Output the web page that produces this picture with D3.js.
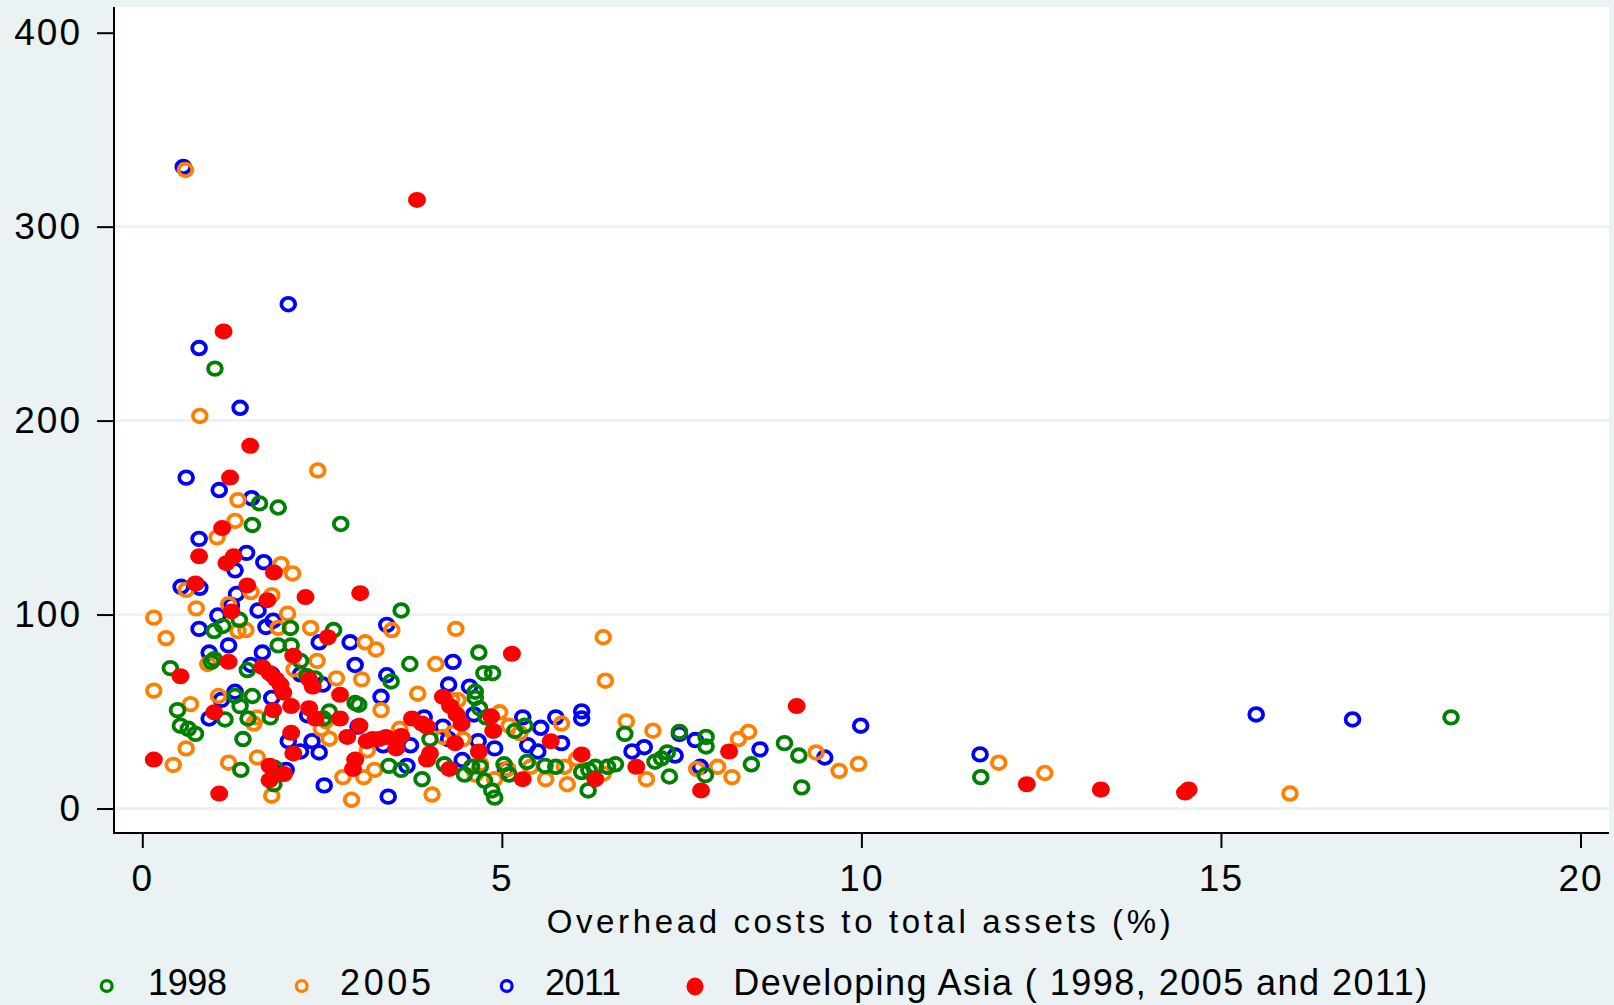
<!DOCTYPE html>
<html>
<head>
<meta charset="utf-8">
<script src="https://cdn.jsdelivr.net/npm/d3@7"></script>
<style>
  body { margin: 0; background: #eaf2f3; }
  text { font-family: "Liberation Sans", Arial, sans-serif; fill: #000; }
</style>
</head>
<body>
<svg id="chart"></svg>
<script>
// overhead costs to total assets (%) vs y value, one list per year
var data2011 = [
  [0.57,330.8],[2.03,260],[0.79,237.4],[1.36,206.6],[0.61,170.6],[1.07,164.2],[1.52,160],
  [0.79,139],[1.45,131.8],[1.69,127],[1.29,122.8],[0.54,114.3],[0.8,113.8],[1.31,110.6],
  [1.61,102.1],[1.24,104.8],[1.05,99.5],[1.82,96.8],[1.72,93.6],[0.79,92.6],[3.4,94.7],
  [1.2,84.1],[1.67,80.4],[0.93,80.4],[2.46,85.7],[2.89,85.7],[2.96,74],[4.32,75.6],
  [1.51,74],[1.8,69.2],[2.2,69.2],[3.4,68.7],[2.51,63.9],[4.26,63.9],[4.55,62.8],
  [6.11,50.1],[6.11,46.4],[5.75,47],[5.29,47],[4.61,48.5],[3.92,47],[3.0,42.2],[3.32,57.6],
  [1.29,60.2],[1.1,56],[0.93,46.4],[1.8,57],[2.2,29.4],[2.03,34.7],[2.36,34.7],[2.46,28.9],
  [3.35,32.6],[3.73,32.6],[3.68,22],[4.18,42.2],[4.26,35.8],[4.67,34.7],[4.9,31],[5.36,32.6],
  [5.54,41.6],[5.5,29.4],[5.83,33.7],[6.98,31.6],[6.81,29.4],[7.41,27.3],[7.47,38.5],
  [7.69,35.3],[7.76,21.5],[8.59,30.5],[9.49,26.3],[9.99,42.7],[11.65,27.9],[15.49,48.5],
  [16.83,45.9],[2.53,11.9],[3.42,6.1],[1.79,21.5],[2.0,19.9],[2.3,48],[4.45,25],[5.05,20]
];

var data2005 = [
  [0.6,329.2],[0.8,202.4],[2.44,174.3],[1.33,159],[1.29,148.3],[1.04,139.8],[1.93,126],
  [2.09,121.2],[1.51,111.6],[0.61,112.7],[1.8,110],[1.2,105.3],[0.75,103.2],[2.02,100.5],
  [0.16,98.4],[1.33,91.5],[1.44,92],[1.89,93.1],[2.34,93.1],[3.47,92],[4.36,92.6],[6.41,88.3],
  [0.33,87.8],[3.1,85.7],[3.25,82],[4.08,74.5],[0.91,74.5],[2.43,76.1],[2.11,71.8],[2.7,67.1],
  [3.05,66.6],[6.44,65.9],[0.16,60.8],[1.06,58],[0.67,53.8],[3.83,59.2],[3.32,50.7],[4.3,56],
  [4.39,55.9],[4.97,49.6],[1.55,43.8],[1.6,47],[2.49,41.1],[2.55,45],[3.58,41.1],[4.18,36.9],
  [4.32,39],[4.46,35.8],[5.1,42.7],[5.25,38.9],[5.83,43.8],[6.73,44.9],[7.1,40.1],[8.29,35.8],
  [8.43,39.5],[9.37,28.9],[0.61,31],[0.43,22.5],[1.2,23.6],[1.6,26.3],[1.8,6.6],[2.6,36],
  [2.79,16.2],[2.91,4.5],[3.08,16.2],[3.13,30],[3.23,19.9],[4.03,7.2],[4.63,17.5],[4.7,23],
  [4.9,15.1],[5.08,20.5],[5.4,21.5],[5.61,15.1],[5.87,21.5],[5.91,12.5],[6.04,25.5],[6.41,18],
  [7.01,15.1],[7.71,20.4],[8.0,21.5],[8.2,16.2],[9.69,19.4],[9.96,23],[11.91,23.6],[12.55,18.3],
  [15.96,7.7]
];

var data1998 = [
  [1.01,226.8],[1.53,146.2],[2.76,146.7],[1.63,157.3],[1.89,155.2],[1.35,97.3],[1.12,94.1],
  [1.0,91.5],[2.06,93.1],[2.66,92],[3.6,102.1],[1.89,84.1],[2.07,84.1],[3.72,74.5],[4.68,80.4],
  [4.75,69.8],[4.87,69.8],[0.96,75.6],[1.0,77],[1.46,71.4],[2.2,76.1],[2.29,68.2],[2.4,67.1],
  [3.46,65.5],[4.63,60.2],[4.63,57],[4.69,51.7],[4.78,47],[0.39,72.4],[0.49,50.7],[0.53,42.7],
  [0.64,41.1],[0.74,38.5],[1.29,58],[1.36,52.8],[1.15,45.9],[1.53,58],[1.47,46.4],[1.78,47],
  [1.4,35.8],[1.37,19.9],[1.83,12.5],[2.96,54.4],[3.01,53.5],[2.52,46.4],[2.6,50],[3.43,22],
  [3.6,19.9],[3.89,15.1],[4.0,35.8],[4.2,22.8],[4.48,17.5],[4.76,14.3],[4.86,9.3],[4.9,5.6],
  [4.58,21.5],[4.7,21.5],[5.03,22.8],[5.1,17.5],[5.18,40],[5.32,42.7],[5.35,24],[5.6,22],
  [5.75,21.5],[6.11,18.8],[6.21,19.9],[6.2,9.3],[6.3,21.5],[6.47,21.5],[6.58,22.8],[6.71,38.5],
  [7.13,24.1],[7.22,25.8],[7.3,28.9],[7.33,16.5],[7.47,39.5],[7.84,36.9],[7.84,32],[7.83,17.2],
  [8.47,22.8],[8.93,33.7],[9.13,27.3],[9.17,10.9],[11.66,16.2],[18.2,47],[1.84,21]
];

var dataAsia = [
  [3.82,313.8],[1.13,246],[1.5,187],[1.22,170.6],[1.11,144.6],[0.79,130],[1.17,126.5],
  [1.27,130],[0.74,116],[1.46,115],[1.83,121.7],[1.74,107.4],[2.27,109],[3.03,111],
  [1.24,101.6],[2.58,88.3],[5.14,79.8],[1.2,75.6],[2.1,78.8],[0.53,68.2],[1.67,72.9],
  [1.77,69.8],[1.86,66.6],[1.92,63.9],[2.32,66.6],[2.37,62.9],[1.96,59.7],[2.75,58.6],
  [2.07,52.8],[2.32,51.7],[1.82,50.7],[1.0,49.6],[4.18,57.6],[4.28,52.8],[4.37,48.5],
  [4.44,43.8],[3.75,46.4],[3.89,43.8],[3.96,42.2],[4.85,47.5],[4.88,40],[2.75,46.4],
  [3.02,42.7],[2.41,46.4],[2.07,39],[2.85,36.9],[3.12,34.7],[3.2,35.8],[3.29,35.8],
  [3.39,36.9],[3.53,34.7],[3.6,37.4],[3.53,31],[4.35,33.7],[4.68,29.4],[4.0,28.4],
  [3.96,25.2],[2.1,28.4],[2.96,25.2],[2.93,20.4],[1.77,22],[1.97,17.8],[1.77,14.6],
  [4.27,20.4],[5.29,15.1],[5.68,34.7],[6.11,27.9],[6.3,15.1],[6.87,21.5],[8.16,29.4],
  [7.77,9.3],[9.1,52.8],[12.3,12.5],[13.33,9.8],[14.5,8.2],[14.55,9.8],[0.16,25.2],[1.07,7.7]
];

var xTicks = [0, 5, 10, 15, 20];
var yTicks = [0, 100, 200, 300, 400];
var yGrid = [0, 100, 200, 300];

var seriesNames = ["1998", "2005", "2011", "Developing Asia ( 1998, 2005 and 2011)"];
var seriesColors = ["#008000", "#ff8000", "#0000ff", "#ff0000"];

var width = 1614, height = 1005;
var plot = {left: 114, top: 7, right: 1609, bottom: 833};
var bg = "#eaf2f3";

var svg = d3.select("#chart")
    .attr("width", width)
    .attr("height", height);

svg.append("rect")
    .attr("width", width)
    .attr("height", height)
    .attr("fill", bg);

svg.append("rect")
    .attr("x", plot.left)
    .attr("y", plot.top)
    .attr("width", plot.right - plot.left)
    .attr("height", plot.bottom - plot.top)
    .attr("fill", "#fff");

var x = d3.scaleLinear().domain([0, 20]).range([142.3, 1580.5]);
var y = d3.scaleLinear().domain([0, 400]).range([808.5, 32.7]);

// grid lines
svg.append("g")
    .selectAll("line")
    .data(yGrid)
    .enter()
    .append("line")
    .attr("x1", plot.left)
    .attr("x2", plot.right)
    .attr("y1", function(d){ return y(d); })
    .attr("y2", function(d){ return y(d); })
    .attr("stroke", bg)
    .attr("stroke-width", 3);

// axes
var yAxis = svg.append("g")
    .attr("transform", "translate(" + plot.left + ",0)")
    .call(d3.axisLeft(y)
        .tickValues(yTicks)
        .tickSize(17)
        .tickPadding(15)
        .tickFormat(d3.format("d")));

var xAxis = svg.append("g")
    .attr("transform", "translate(0," + plot.bottom + ")")
    .call(d3.axisBottom(x)
        .tickValues(xTicks)
        .tickSize(15)
        .tickPadding(17)
        .tickFormat(d3.format("d")));

[xAxis, yAxis].forEach(function(ax){
    ax.select(".domain").remove();
    ax.selectAll(".tick line").attr("stroke", "#000").attr("stroke-width", 2);
    ax.selectAll(".tick text")
        .style("font-family", "'Liberation Sans', Arial, sans-serif")
        .style("font-size", "37px")
        .style("letter-spacing", "2px")
        .attr("fill", "#000");
});

svg.append("line")
    .attr("x1", plot.left).attr("x2", plot.left)
    .attr("y1", plot.top).attr("y2", plot.bottom + 1)
    .attr("stroke", "#000").attr("stroke-width", 2);

svg.append("line")
    .attr("x1", plot.left - 1).attr("x2", plot.right)
    .attr("y1", plot.bottom).attr("y2", plot.bottom)
    .attr("stroke", "#000").attr("stroke-width", 2);

// axis title
svg.append("text")
    .attr("x", 546.7)
    .attr("y", 933)
    .attr("textLength", 624)
    .attr("lengthAdjust", "spacing")
    .style("font-size", "33px")
    .text("Overhead costs to total assets (%)");

// points: 2011, 2005, 1998 hollow, then Asia filled on top
var hollow = [[data2011, 2], [data2005, 1], [data1998, 0]];
var points = svg.append("g").attr("class", "points-container");

hollow.forEach(function(s){
    points.append("g")
        .selectAll("ellipse")
        .data(s[0])
        .enter()
        .append("ellipse")
        .attr("cx", function(d){ return x(d[0]); })
        .attr("cy", function(d){ return y(d[1]); })
        .attr("rx", 6.9)
        .attr("ry", 6.3)
        .attr("fill", "none")
        .attr("stroke", seriesColors[s[1]])
        .attr("stroke-width", 3.8);
});

points.append("g")
    .selectAll("ellipse")
    .data(dataAsia)
    .enter()
    .append("ellipse")
    .attr("cx", function(d){ return x(d[0]); })
    .attr("cy", function(d){ return y(d[1]); })
    .attr("rx", 9)
    .attr("ry", 8)
    .attr("fill", seriesColors[3]);

// legend
var legendItems = [
    {sym: 106.7, tx: 148, tw: 79},
    {sym: 301.7, tx: 340, tw: 91},
    {sym: 506.7, tx: 545, tw: 76},
    {sym: 695, tx: 733.3, tw: 694}
];
var legend = svg.append("g");

legendItems.forEach(function(it, i){
    if (i < 3) {
        legend.append("circle")
            .attr("cx", it.sym).attr("cy", 986)
            .attr("r", 5.4)
            .attr("fill", "none")
            .attr("stroke", seriesColors[i])
            .attr("stroke-width", 3.2);
    } else {
        legend.append("ellipse")
            .attr("cx", it.sym).attr("cy", 986.5)
            .attr("rx", 8.5).attr("ry", 9)
            .attr("fill", seriesColors[i]);
    }
    legend.append("text")
        .attr("x", it.tx)
        .attr("y", 995)
        .attr("textLength", it.tw)
        .attr("lengthAdjust", "spacing")
        .style("font-size", "36px")
        .text(seriesNames[i]);
});
</script>
</body>
</html>
